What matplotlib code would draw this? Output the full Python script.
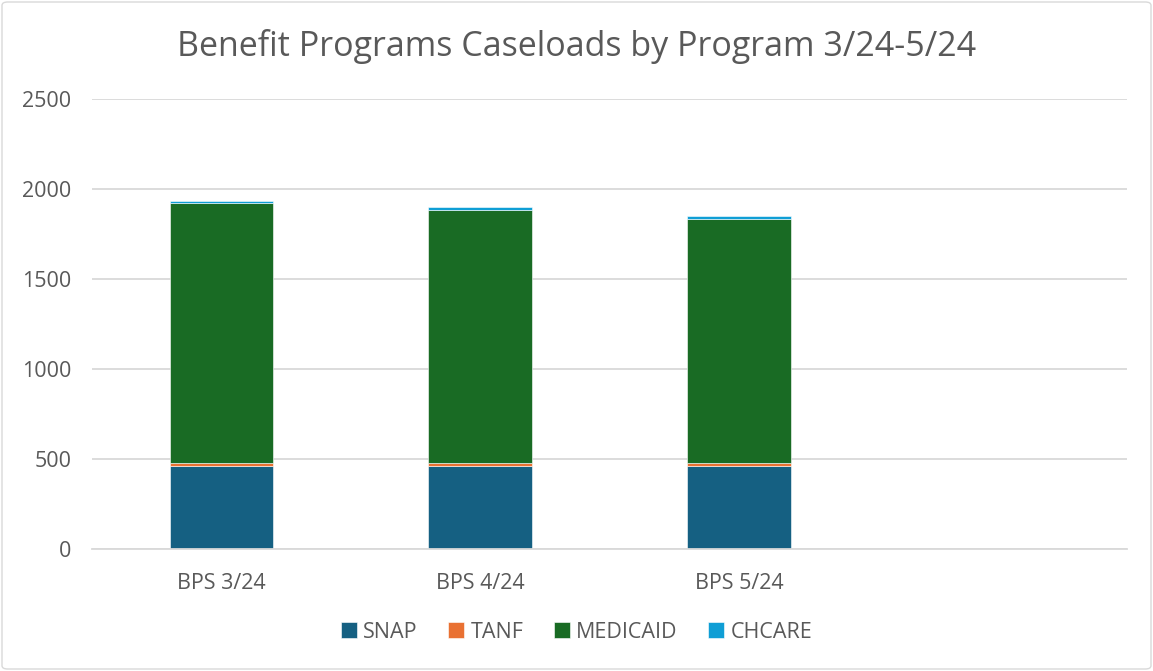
import matplotlib
matplotlib.use("Agg")
import matplotlib.pyplot as plt
from matplotlib.patches import FancyBboxPatch

categories = ["BPS 3/24", "BPS 4/24", "BPS 5/24", ""]
snap = [463, 463, 463, 0]
tanf = [16, 15, 13, 0]
medicaid = [1441, 1407, 1359, 0]
chcare = [15, 17, 17, 0]
series_names = ["SNAP", "TANF", "MEDICAID", "CHCARE"]
colors = ["#156082", "#E97132", "#196B24", "#0F9ED5"]
yticks = [0, 500, 1000, 1500, 2000, 2500]

plt.rcParams['font.family'] = ['Open Sans', 'DejaVu Sans']
W, H = 1153, 671
fig = plt.figure(figsize=(W/100, H/100), dpi=100)
ax = fig.add_axes([92/W, 1-549/H, (1127-92)/W, (549-99)/H])

x = list(range(len(categories)))
bottom = [0]*len(categories)
for vals, name, c in zip([snap, tanf, medicaid, chcare], series_names, colors):
    ax.bar(x, vals, width=0.4, bottom=bottom, color=c, label=name,
           edgecolor="white", linewidth=0.4)
    bottom = [b+v for b, v in zip(bottom, vals)]

ax.set_xlim(-0.5, len(categories)-0.5)
ax.set_ylim(0, 2500)
ax.set_yticks(yticks)
ax.set_yticklabels([str(t) for t in yticks])
ax.set_xticks(x)
ax.set_xticklabels(categories)
ax.yaxis.grid(True, color="#D9D9D9", linewidth=1.3)
ax.set_axisbelow(True)
for s in ["top", "right", "left"]:
    ax.spines[s].set_visible(False)
ax.spines["bottom"].set_color("#D9D9D9")
ax.spines["bottom"].set_linewidth(1.3)
ax.tick_params(axis="both", length=0, labelsize=15.5, labelcolor="#595959")
ax.tick_params(axis="y", pad=15)
ax.tick_params(axis="x", pad=17)

fig.text(0.5, 1-47/H, "Benefit Programs Caseloads by Program 3/24-5/24",
         ha="center", va="center", fontsize=24.5, color="#595959")

leg = fig.legend(*ax.get_legend_handles_labels(), loc="center",
                 bbox_to_anchor=(0.5, 1-632/H), ncol=4, frameon=False,
                 fontsize=15.5, labelcolor="#595959", handlelength=0.75,
                 handleheight=0.75, handletextpad=0.3, columnspacing=1.4)

border = FancyBboxPatch((2/W, 2/H), 1-4/W, 1-4/H, boxstyle="round,pad=0,rounding_size=0.005",
                        transform=fig.transFigure, fill=False, edgecolor="#D9D9D9", linewidth=1)
fig.patches.append(border)

fig.savefig("out.png", dpi=100)
